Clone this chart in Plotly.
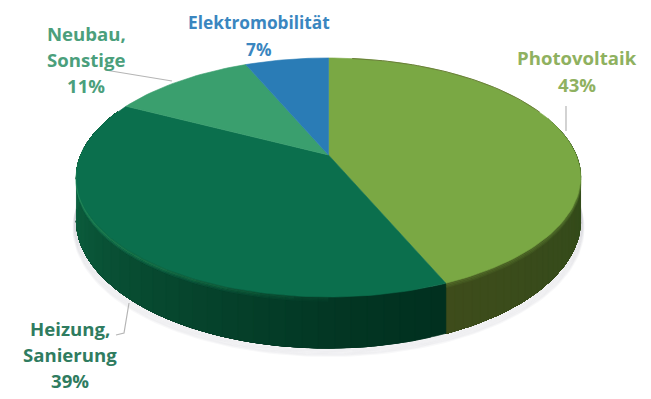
import math
import plotly.graph_objects as go

# Slices, clockwise from twelve o'clock
categories = ["Photovoltaik", "Heizung, Sanierung", "Neubau, Sonstige", "Elektromobilität"]
shares = [43, 39, 11, 7]
top_colors = ["#7aa844", "#0b6f4d", "#3a9f6e", "#2a7cb6"]
# Side wall shade at the start and at the end of each visible slice
wall_start = ["#2c4a1a", "#01301f"]
wall_end = ["#3e4c1b", "#11724b"]
label_colors = ["#8fb160", "#2f7c60", "#4b9f7c", "#3a86c0"]

# Projection of the tilted disc onto the page, in pixels
CX, CY = 328.5, 155.0
RX, RY = 247.6, 115.3
PERSPECTIVE = 0.188
TWIST = 0.048
DEPTH = 41.5


def project(frac):
    a = 2 * math.pi * frac - TWIST * math.sin(4 * math.pi * frac)
    u, v = math.sin(a), math.cos(a)
    w = 1 + PERSPECTIVE * v
    return CX + RX * u / w, CY - RY * v / w, w


def lower(frac):
    x, y, w = project(frac)
    return x, y + DEPTH / w


def mix(c1, c2, t):
    a = [int(c1[i:i + 2], 16) for i in (1, 3, 5)]
    b = [int(c2[i:i + 2], 16) for i in (1, 3, 5)]
    return "#" + "".join(f"{round(p + (q - p) * t):02x}" for p, q in zip(a, b))


fig = go.Figure()


def poly(xs, ys, color):
    fig.add_trace(go.Scatter(x=xs, y=ys, mode="lines", fill="toself", fillcolor=color,
                             line=dict(color=color, width=0.6), hoverinfo="skip",
                             showlegend=False))


def stroke(xs, ys, color, width):
    fig.add_trace(go.Scatter(x=xs, y=ys, mode="lines", line=dict(color=color, width=width),
                             hoverinfo="skip", showlegend=False))


total = sum(shares)
edges = [0.0]
for s in shares:
    edges.append(edges[-1] + s / total)

# Soft shadow hugging the lower outline of the wall
for grow in range(1, 8):
    arc = [0.215 + grow * 0.004 + i * (0.57 - grow * 0.008) / 120 for i in range(121)]
    xs, ys = [], []
    for f in arc:
        x, y = lower(f)
        xs.append(CX + (x - CX) * (1 + grow * 0.0016))
        ys.append(y + grow * 1.1)
    stroke(xs, ys, "rgba(125,120,140,0.055)", 2.4)

# Side wall: each strip runs on to the end of its slice and the next paints over it
for i in range(2):
    lo, hi = max(edges[i], 0.2), min(edges[i + 1], 0.81)
    n = 40
    arc_end = [lo + (hi - lo) * k / 60 for k in range(61)]
    for k in range(n):
        f0 = lo + (hi - lo) * k / n
        kept = [f0] + [f for f in arc_end if f > f0]
        top = [project(f) for f in kept]
        bot = [lower(f) for f in reversed(kept)]
        xs = [p[0] for p in top] + [p[0] for p in bot]
        ys = [p[1] for p in top] + [p[1] for p in bot]
        t = (k + 0.5) / n
        poly(xs + xs[:1], ys + ys[:1], mix(wall_start[i], wall_end[i], t if i == 0 else t ** 1.3))

# Bevel glow just under the front rim, its runs staggered so that it fades out towards the seam
for start in (0.50, 0.52, 0.54, 0.56, 0.58, 0.60):
    rim = [start + (0.76 - start) * k / 50 for k in range(51)]
    for spread, alpha in ((4, 0.03), (2.5, 0.05), (1, 0.07)):
        stroke([project(f)[0] for f in rim], [project(f)[1] + spread for f in rim],
               f"rgba(60,170,120,{alpha})", 2)
for spread, alpha in ((4, 0.10), (2.5, 0.16), (1, 0.22)):
    rim_pv = [0.2 + (edges[1] - 0.2) * k / 40 for k in range(41)]
    stroke([project(f)[0] for f in rim_pv], [project(f)[1] + spread for f in rim_pv],
           f"rgba(122,168,68,{alpha})", 2)

# Top face
for i, color in enumerate(top_colors):
    n = max(8, int((edges[i + 1] - edges[i]) * 240))
    pts = [project(edges[i] + (edges[i + 1] - edges[i]) * k / n) for k in range(n + 1)]
    poly([CX] + [p[0] for p in pts] + [CX], [CY] + [p[1] for p in pts] + [CY], color)

# Thin dark edge along the far right of the top face
back = [0.02 + 0.17 * k / 40 for k in range(41)]
stroke([project(f)[0] for f in back], [project(f)[1] for f in back], "#6a7f38", 1)

# Leader lines
LEADER = "#b5b5b5"
stroke([105, 172], [70, 81], LEADER, 1.2)
stroke([566, 566], [106, 131], LEADER, 1.2)
stroke([129, 124, 116], [303, 333, 335], LEADER, 1.2)

# One annotation per text line, so the leading can be set freely
labels = [
    (["Photovoltaik", "43%"], 577, [57, 84], label_colors[0], 18.6),
    (["Heizung,", "Sanierung", "39%"], 70, [328, 354, 380], label_colors[1], 18.6),
    (["Neubau,", "Sonstige", "11%"], 86, [33, 59, 85], label_colors[2], 18.6),
    (["Elektromobilität", "7%"], 259, [22, 49], label_colors[3], 17.3),
]
annotations = []
for lines, x, rows, color, size in labels:
    for line, y in zip(lines, rows):
        annotations.append(dict(x=x, y=y, text=line, showarrow=False, xref="x", yref="y",
                                font=dict(family="Open Sans", size=size, color=color, weight=700),
                                xanchor="center", yanchor="middle"))

fig.update_layout(
    width=651, height=399, margin=dict(l=0, r=0, t=0, b=0),
    paper_bgcolor="white", plot_bgcolor="white", showlegend=False,
    xaxis=dict(range=[0, 651], visible=False, fixedrange=True),
    yaxis=dict(range=[399, 0], visible=False, fixedrange=True),
    annotations=annotations,
)
fig.write_html("out.html", config=dict(displayModeBar=False))
